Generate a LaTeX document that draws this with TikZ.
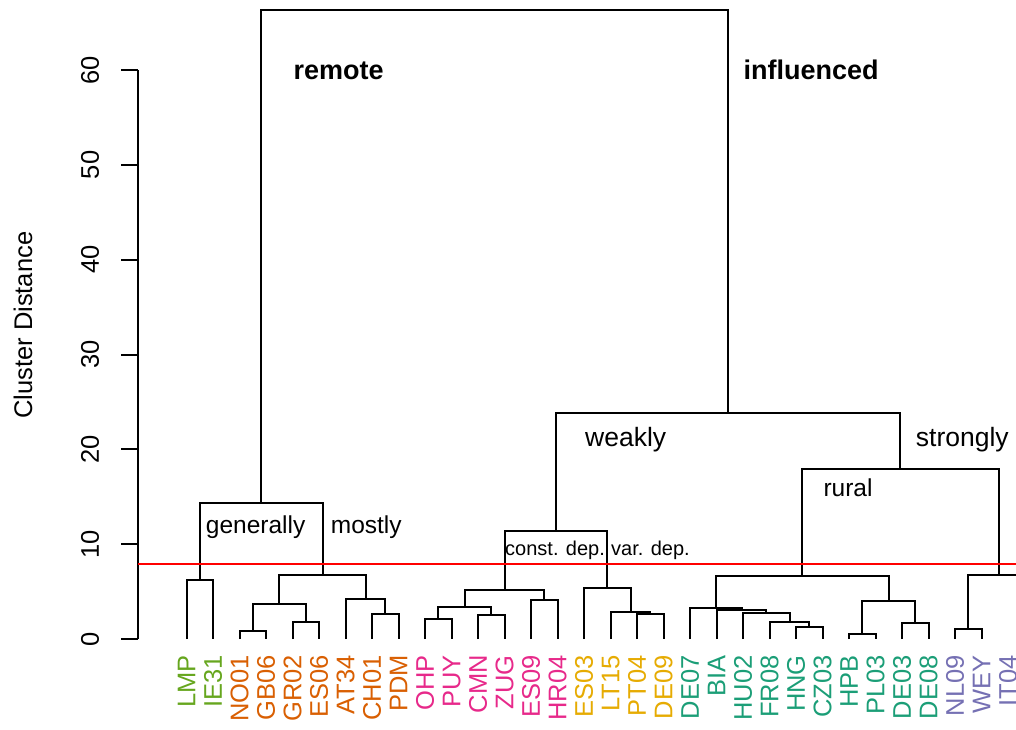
\documentclass[tikz,border=0pt]{standalone}
\usepackage{fontspec}
\setmainfont{Liberation Sans}
\definecolor{grpgreen}{HTML}{66A61E}
\definecolor{grporange}{HTML}{D95F02}
\definecolor{grppink}{HTML}{E7298A}
\definecolor{grpyellow}{HTML}{E6AB02}
\definecolor{grpteal}{HTML}{1B9E77}
\definecolor{grppurple}{HTML}{7570B3}
\definecolor{cutred}{HTML}{FF0000}
\tikzset{
  branch/.style   = {draw=black, line width=2pt},
  cutline/.style  = {draw=cutred, line width=2pt},
  leaflab/.style  = {rotate=90, anchor=east, font=\fontsize{25.5}{30}\selectfont},
  ticklab/.style  = {rotate=90, font=\fontsize{25.5}{30}\selectfont},
  grouplab/.style = {anchor=base west, font=\fontsize{27}{32}\selectfont\bfseries},
  sublab/.style   = {anchor=base west, font=\fontsize{24.5}{30}\selectfont},
  smalllab/.style = {anchor=base west, font=\fontsize{20}{24}\selectfont}
}
% join two clusters at a given height
\newcommand{\dmerge}[4]{%
  \path (#2) -- (#3) coordinate[midway] (#1-mid);
  \coordinate (#1) at (perpendicular cs: horizontal line through={(0,#4)},
                                         vertical line through={(#1-mid)});
  \draw[branch] (#2) |- (#1) -| (#3);
}

\begin{document}
\begin{tikzpicture}
  [
    x                 = 1pt,
    y                 = 9.48pt,
    every node/.style = {inner sep=0pt}
  ]
  \useasboundingbox (0,-9.494) rectangle (1016,67.405);
  \clip (0,-9.494) rectangle (1016,67.405);

  % axis
  \coordinate (ax-lo) at (138,0);
  \coordinate (ax-hi) at (138,60);
  \draw[branch] (ax-lo) -- (ax-hi);
  \foreach \t in {0,10,...,60} {
    \coordinate (tick-\t) at (138,\t);
    \draw[branch] (tick-\t) -- ++(-17,0);
    \node[ticklab] (ticklab-\t) at (90,\t) {\t};
  }
  \node[ticklab] (ylab) at (23,33.1) {Cluster Distance};

  % leaves
  \foreach \lab/\col [count=\i] in {LMP/grpgreen, IE31/grpgreen,
      NO01/grporange, GB06/grporange, GR02/grporange, ES06/grporange,
      AT34/grporange, CH01/grporange, PDM/grporange,
      OHP/grppink, PUY/grppink, CMN/grppink, ZUG/grppink, ES09/grppink, HR04/grppink,
      ES03/grpyellow, LT15/grpyellow, PT04/grpyellow, DE09/grpyellow,
      DE07/grpteal, BIA/grpteal, HU02/grpteal, FR08/grpteal, HNG/grpteal,
      CZ03/grpteal, HPB/grpteal, PL03/grpteal, DE03/grpteal, DE08/grpteal,
      NL09/grppurple, WEY/grppurple, IT04/grppurple} {
    \coordinate (\lab) at ({186.7+26.5*(\i-1)},0);
    \node[leaflab, text=\col] (\lab-lab) at ({186.7+26.5*(\i-1)},-1.69) {\lab};
  }
  \coordinate (offright) at (1028.6,5);

  % remote branch
  \dmerge{m1}{LMP}{IE31}{6.22}
  \dmerge{m2}{NO01}{GB06}{0.88}
  \dmerge{m3}{GR02}{ES06}{1.82}
  \dmerge{m4}{m2}{m3}{3.69}
  \dmerge{m5}{CH01}{PDM}{2.64}
  \dmerge{m6}{AT34}{m5}{4.22}
  \dmerge{m7}{m4}{m6}{6.75}
  \dmerge{remote}{m1}{m7}{14.31}

  % weakly influenced
  \dmerge{p1}{OHP}{PUY}{2.11}
  \dmerge{p2}{CMN}{ZUG}{2.53}
  \dmerge{p3}{p1}{p2}{3.34}
  \dmerge{p4}{ES09}{HR04}{4.11}
  \dmerge{p5}{p3}{p4}{5.17}
  \dmerge{y1}{PT04}{DE09}{2.61}
  \dmerge{y2}{LT15}{y1}{2.88}
  \dmerge{y3}{ES03}{y2}{5.35}
  \dmerge{weak}{p5}{y3}{11.39}

  % strongly influenced
  \dmerge{t1}{HNG}{CZ03}{1.30}
  \dmerge{t2}{FR08}{t1}{1.76}
  \dmerge{t3}{HU02}{t2}{2.77}
  \dmerge{t4}{BIA}{t3}{3.06}
  \dmerge{t5}{DE07}{t4}{3.30}
  \dmerge{t6}{HPB}{PL03}{0.50}
  \dmerge{t7}{DE03}{DE08}{1.66}
  \dmerge{t8}{t6}{t7}{4.01}
  \dmerge{t9}{t5}{t8}{6.68}
  \dmerge{u1}{NL09}{WEY}{1.05}
  \dmerge{u2}{u1}{offright}{6.75}
  \dmerge{strong}{t9}{u2}{17.93}
  \dmerge{infl}{weak}{strong}{23.81}
  \dmerge{top}{remote}{infl}{66.35}

  % cut height
  \coordinate (cut-l) at (138,7.95);
  \coordinate (cut-r) at (1016,7.95);
  \draw[cutline] (cut-l) -- (cut-r);

  % group labels
  \node[grouplab] (l-remote) at (293.3,58.97) {remote};
  \node[grouplab] (l-infl)   at (743.3,58.97) {influenced};
  \node[sublab]   (l-gen)    at (205.7,11.18) {generally};
  \node[sublab]   (l-most)   at (330.7,11.18) {mostly};
  \node[sublab, font=\fontsize{26.5}{30}\selectfont] (l-weak)   at (585,20.29) {weakly};
  \node[sublab, font=\fontsize{26.5}{30}\selectfont] (l-strong) at (915.7,20.35) {strongly};
  \node[sublab]   (l-rural)  at (823.3,15.01) {rural};
  \node[smalllab] (l-const)  at (505,8.86) {const. dep.};
  \node[smalllab] (l-var)    at (611,8.86) {var. dep.};
\end{tikzpicture}
\end{document}
